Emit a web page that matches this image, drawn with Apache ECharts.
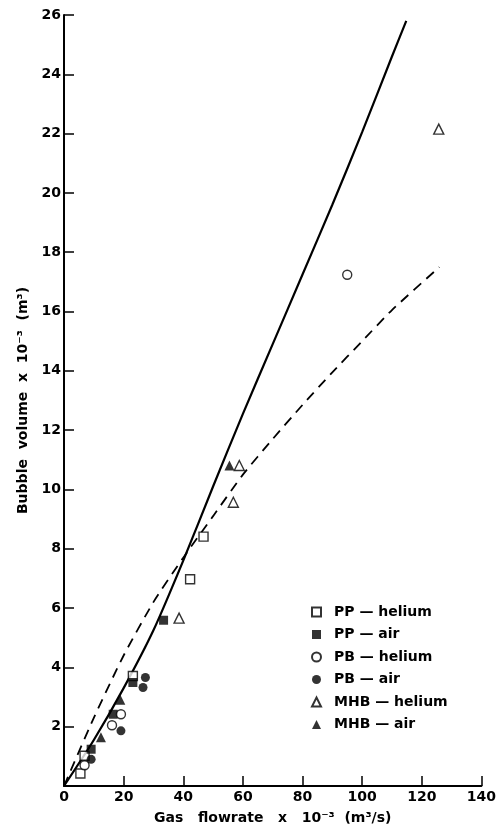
<!DOCTYPE html>
<html>
<head>
<meta charset="utf-8">
<script src="https://cdn.jsdelivr.net/npm/echarts@6/dist/echarts.min.js"></script>
<style>
html,body{margin:0;padding:0;background:#fff;}
#c{width:499px;height:838px;}
</style>
</head>
<body>
<div id="c"></div>
<script>
// ---- data ----
var xTicks = [0, 20, 40, 60, 80, 100, 120, 140];
var yTicks = [0, 2, 4, 6, 8, 10, 12, 14, 16, 18, 20, 22, 24, 26];

var seriesNames = ['PP \u2014 helium', 'PP \u2014 air', 'PB \u2014 helium', 'PB \u2014 air', 'MHB \u2014 helium', 'MHB \u2014 air'];

var ppHeliumX = [5.5, 6.9, 23.1, 42.3, 46.8];
var ppHeliumY = [0.42, 1.02, 3.71, 6.97, 8.41];

var ppAirX = [9.1, 16.5, 23.1, 33.4];
var ppAirY = [1.24, 2.42, 3.49, 5.59];

var pbHeliumX = [6.9, 16.1, 19.1, 95.0];
var pbHeliumY = [0.70, 2.05, 2.42, 17.24];

var pbAirX = [9.1, 19.1, 26.5, 27.3];
var pbAirY = [0.90, 1.86, 3.32, 3.66];

var mhbHeliumX = [38.6, 56.8, 58.8, 125.7];
var mhbHeliumY = [5.66, 9.57, 10.81, 22.15];

var mhbAirX = [12.4, 18.9, 55.5];
var mhbAirY = [1.64, 2.91, 10.81];

// solid correlation curve
var solidX = [0, 10, 20, 30, 40, 50, 60, 70, 80, 90, 100, 110, 114.8];
var solidY = [0, 1.55, 3.3, 5.25, 7.6, 10.1, 12.55, 14.9, 17.25, 19.6, 22.05, 24.6, 25.8];

// dashed correlation curve
var dashedX = [0, 10, 20, 30, 40, 50, 60, 70, 80, 90, 100, 110, 125.9];
var dashedY = [0, 2.3, 4.4, 6.2, 7.7, 9.1, 10.5, 11.7, 12.85, 13.95, 15.0, 16.05, 17.5];

function pairs(xs, ys) {
  var out = [];
  for (var i = 0; i < xs.length; i++) out.push([xs[i], ys[i]]);
  return out;
}

var FONT = 'DejaVu Sans';
var openStyle = { color: '#ffffff', borderColor: '#000000', borderWidth: 1.4 };
var fillStyle = { color: '#000000', borderColor: '#000000', borderWidth: 0 };
var txt = { fontFamily: FONT, fontSize: 14, fontWeight: 'bold', color: '#000' };

function scatter(name, xs, ys, symbol, size, style) {
  return {
    name: name, type: 'scatter', data: pairs(xs, ys),
    symbol: symbol, symbolSize: size, itemStyle: style, z: 5,
    emphasis: { disabled: true }
  };
}

var chart = echarts.init(document.getElementById('c'), null, { renderer: 'canvas' });
chart.setOption({
  animation: false,
  backgroundColor: '#ffffff',
  textStyle: { fontFamily: FONT, color: '#000' },
  grid: { left: 64, right: 17, top: 15, bottom: 52, containLabel: false },
  legend: {
    data: seriesNames,
    orient: 'vertical',
    left: 306, top: 600,
    itemWidth: 9, itemHeight: 9, itemGap: 8.5,
    textStyle: Object.assign({}, txt, { padding: [0, 0, 0, 8] }),
    selectedMode: false
  },
  xAxis: {
    type: 'value', min: xTicks[0], max: xTicks[xTicks.length - 1], interval: 20,
    name: 'Gas   flowrate   x   10\u207B\u00B3  (m\u00B3/s)',
    nameLocation: 'middle', nameGap: 25,
    nameTextStyle: txt,
    axisLine: { show: true, onZero: false, lineStyle: { color: '#000', width: 2 } },
    axisTick: { show: true, inside: true, length: 10, lineStyle: { color: '#000', width: 1.5 } },
    axisLabel: Object.assign({}, txt, { margin: 4 }),
    splitLine: { show: false }
  },
  yAxis: {
    type: 'value', min: yTicks[0], max: yTicks[yTicks.length - 1], interval: 2,
    name: 'Bubble  volume  x  10\u207B\u00B3  (m\u00B3)',
    nameLocation: 'middle', nameGap: 31,
    nameTextStyle: txt,
    axisLine: { show: true, onZero: false, lineStyle: { color: '#000', width: 2 } },
    axisTick: { show: true, inside: true, length: 10, lineStyle: { color: '#000', width: 1.5 } },
    axisLabel: Object.assign({}, txt, { margin: 3, showMinLabel: false }),
    splitLine: { show: false }
  },
  series: [
    {
      name: 'solid', type: 'line', data: pairs(solidX, solidY), smooth: 0.25,
      showSymbol: false, symbol: 'none', z: 2,
      lineStyle: { color: '#000', width: 2.2, type: 'solid' }, emphasis: { disabled: true }
    },
    {
      name: 'dashed', type: 'line', data: pairs(dashedX, dashedY), smooth: 0.2,
      showSymbol: false, symbol: 'none', z: 2,
      lineStyle: { color: '#000', width: 1.8, type: [10, 7] }, emphasis: { disabled: true }
    },
    scatter(seriesNames[0], ppHeliumX, ppHeliumY, 'rect', 9, openStyle),
    scatter(seriesNames[1], ppAirX, ppAirY, 'rect', 9, fillStyle),
    scatter(seriesNames[2], pbHeliumX, pbHeliumY, 'circle', 9, openStyle),
    scatter(seriesNames[3], pbAirX, pbAirY, 'circle', 9, fillStyle),
    scatter(seriesNames[4], mhbHeliumX, mhbHeliumY, 'triangle', 10, openStyle),
    scatter(seriesNames[5], mhbAirX, mhbAirY, 'triangle', 10, fillStyle)
  ]
});
</script>
</body>
</html>
